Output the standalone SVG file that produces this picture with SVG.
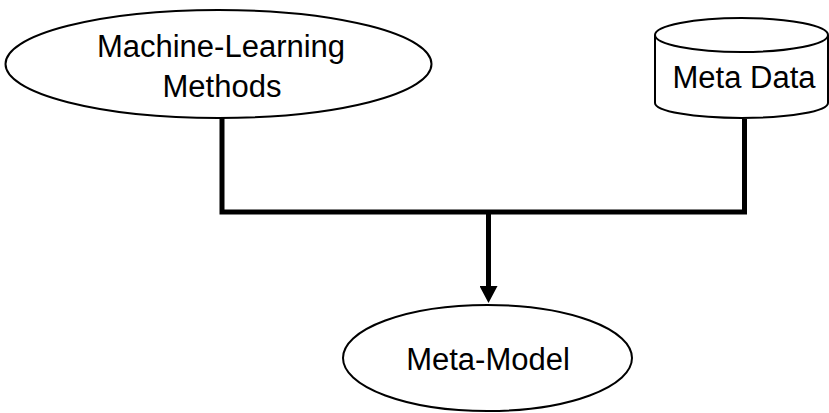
<svg xmlns="http://www.w3.org/2000/svg" width="829" height="413" viewBox="0 0 829 413">
  <style>
    .shape { fill: #ffffff; stroke: #000000; stroke-width: 2; }
    .label { font-family: "Liberation Sans", Arial, sans-serif; font-size: 31px; fill: #000000; text-anchor: middle; }
    .conn { fill: none; stroke: #000000; stroke-width: 5; }
  </style>
  <defs>
    <marker id="arrow" markerUnits="userSpaceOnUse" markerWidth="18" markerHeight="18" refX="1" refY="9" orient="auto">
      <path d="M0,0 L17,9 L0,18 Z" fill="#000000"/>
    </marker>
  </defs>
  <rect width="829" height="413" fill="#ffffff"/>
  <g id="connectors">
    <path class="conn" d="M222,118 V212 H744.5 V119" stroke-linejoin="miter"/>
    <path class="conn" d="M488.5,212 V287" marker-end="url(#arrow)"/>
  </g>
  <g id="ml-methods">
    <ellipse class="shape" cx="218.5" cy="64" rx="213" ry="54"/>
    <text class="label" x="221" y="57">Machine-Learning</text>
    <text class="label" x="222" y="97">Methods</text>
  </g>
  <g id="meta-data">
    <path class="shape" d="M655,35 V103 A86.5,15 0 0 0 828,103 V35"/>
    <ellipse class="shape" cx="741.5" cy="35" rx="86.5" ry="17"/>
    <text class="label" x="744" y="88">Meta Data</text>
  </g>
  <g id="meta-model">
    <ellipse class="shape" cx="487.5" cy="358" rx="144.5" ry="53"/>
    <text class="label" x="488" y="370">Meta-Model</text>
  </g>
</svg>
